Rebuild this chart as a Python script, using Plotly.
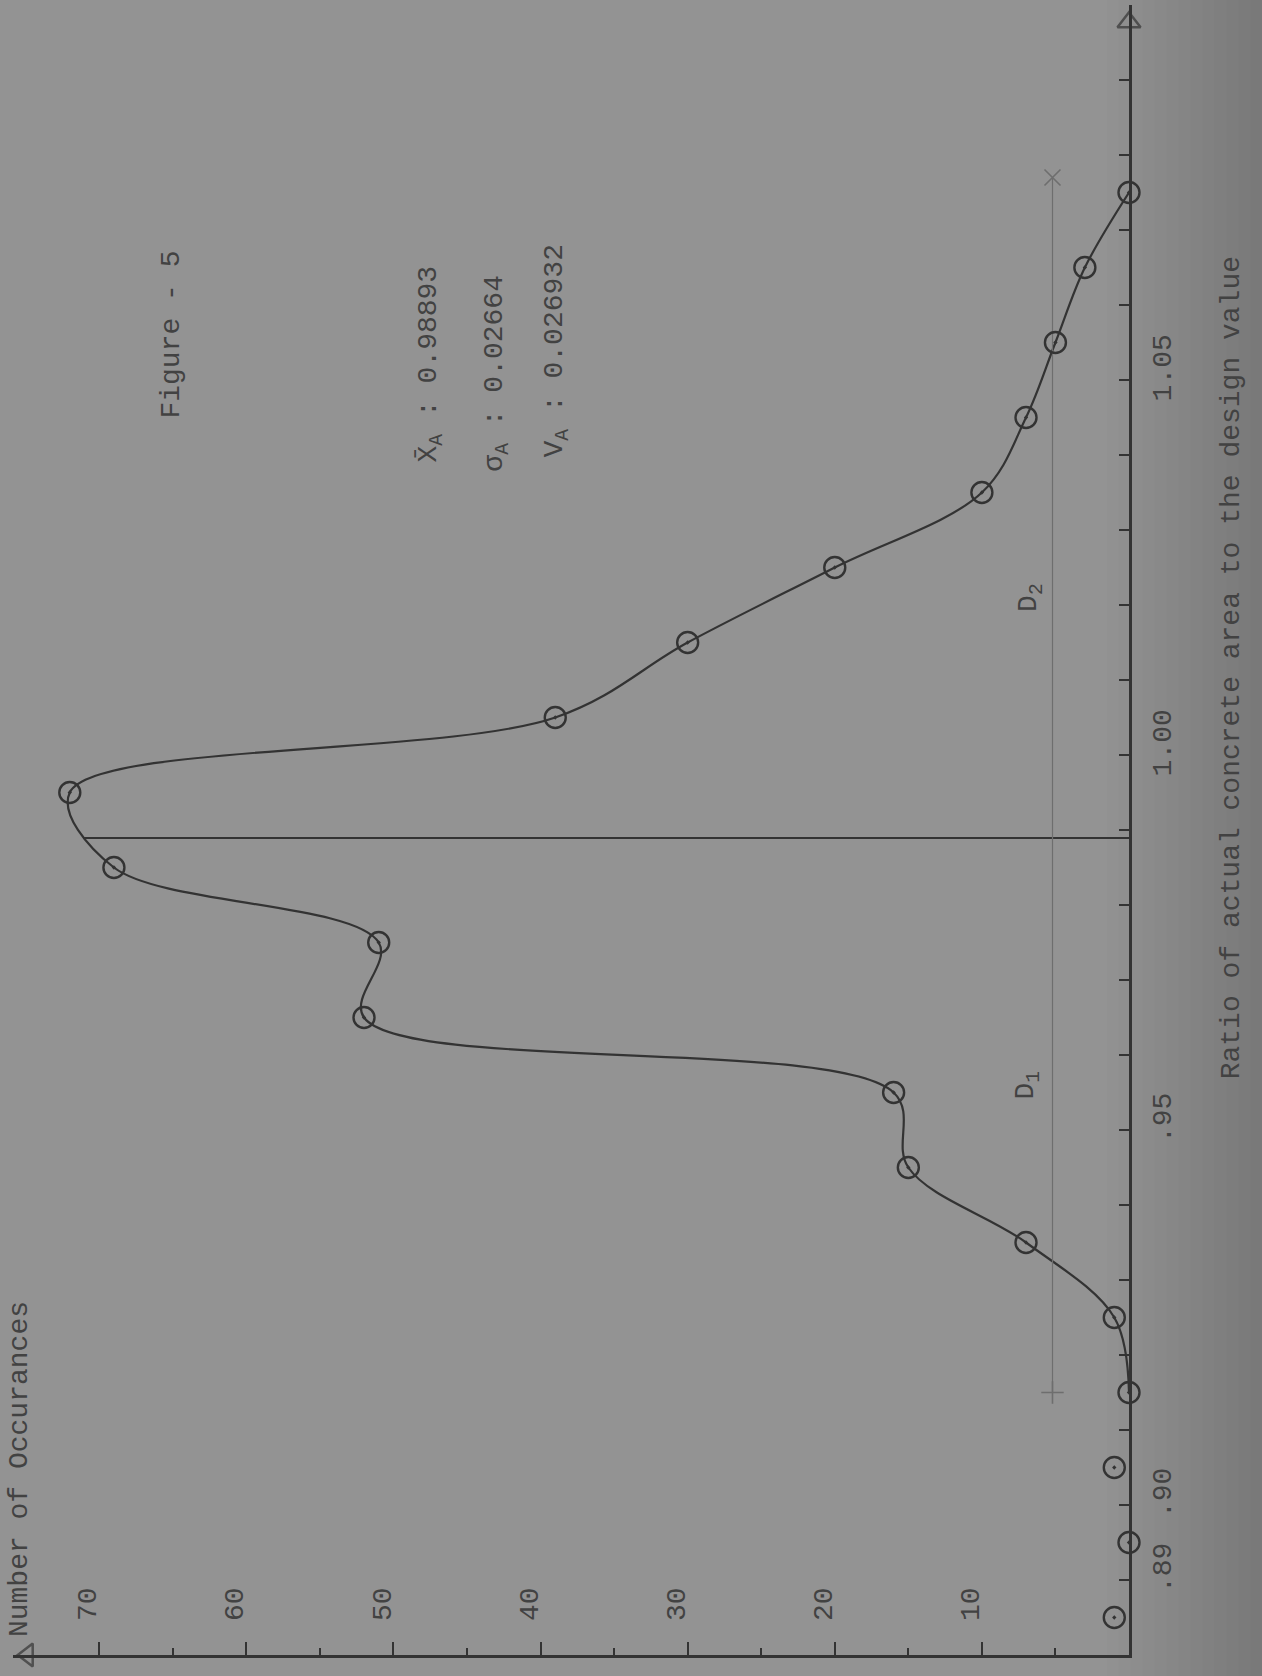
import plotly.graph_objects as go

# ---------------- data ----------------
ratio_bins = [0.885, 0.895, 0.905, 0.915, 0.925, 0.935, 0.945, 0.955, 0.965, 0.975,
              0.985, 0.995, 1.005, 1.015, 1.025, 1.035, 1.045, 1.055, 1.065, 1.075]
occurrences = [1, 0, 1, 0, 1, 7, 15, 16, 52, 51,
               69, 72, 39, 30, 20, 10, 7, 5, 3, 0]
curve_start = 3          # the smooth curve starts at the 0.915 point

mean_ratio = 0.98893
sigma_ratio = 0.02664
cov_ratio = 0.026932
mean_line_counts = [71.1, 0]

d_line_count = 5.2
d_line_ratios = [0.915, 1.077]

count_ticks = [10, 20, 30, 40, 50, 60, 70]
count_minor = [5, 15, 25, 35, 45, 55, 65]
ratio_ticks = [0.89, 0.90, 0.91, 0.92, 0.93, 0.94, 0.95, 0.96, 0.97, 0.98, 0.99,
               1.00, 1.01, 1.02, 1.03, 1.04, 1.05, 1.06, 1.07, 1.08, 1.09]
ratio_labels = {0.89: ".89", 0.90: ".90", 0.95: ".95", 1.00: "1.00", 1.05: "1.05"}

count_range = [75.86, 0]
ratio_range = [0.88, 1.10]

# ---------------- style ----------------
ink = "#333333"
text_ink = "#424242"
faint = "#6e6e6e"
paper = "#939393"
font = "Liberation Mono"

fig = go.Figure()

# smooth curve
fig.add_trace(go.Scatter(
    x=occurrences[curve_start:], y=ratio_bins[curve_start:],
    mode="lines", line=dict(color=ink, width=2.2, shape="spline", smoothing=1.0),
    hoverinfo="skip", showlegend=False))

# mean line
fig.add_trace(go.Scatter(
    x=mean_line_counts, y=[mean_ratio, mean_ratio],
    mode="lines", line=dict(color=ink, width=2), showlegend=False, hoverinfo="skip"))

# faint D line with end marks
fig.add_trace(go.Scatter(
    x=[d_line_count, d_line_count], y=d_line_ratios,
    mode="lines+markers", line=dict(color=faint, width=1.2),
    marker=dict(symbol=["cross-thin", "x-thin"], size=16,
                line=dict(color=faint, width=1.6)),
    showlegend=False, hoverinfo="skip"))

# data points
fig.add_trace(go.Scatter(
    x=occurrences, y=ratio_bins, mode="markers",
    marker=dict(symbol="circle-open-dot", size=21, color=ink,
                line=dict(color=ink, width=2.4)),
    showlegend=False, cliponaxis=False))

# axis arrow heads
fig.add_trace(go.Scatter(
    x=[count_range[1], count_range[0] - 1.0],
    y=[ratio_range[1] - 0.0023, ratio_range[0]],
    mode="markers",
    marker=dict(symbol=["triangle-up-open", "triangle-left-open"], size=[20, 20],
                color=ink, line=dict(color=ink, width=2.5)),
    cliponaxis=False, showlegend=False, hoverinfo="skip"))

ann = []
def A(text, x, y, xref="x", yref="y", size=28):
    ann.append(dict(text=text, x=x, y=y, xref=xref, yref=yref, showarrow=False,
                    textangle=-90, xanchor="center", yanchor="middle",
                    font=dict(family=font, size=size, color=text_ink)))

A("Figure - 5", 65.1, 1.0561)
A("X\u0304<sub>A</sub> : 0.98893", 47.5, 1.0521)
A("\u03c3<sub>A</sub> : 0.02664", 43.0, 1.0509)
A("V<sub>A</sub> : 0.026932", 38.9, 1.0539)
A("D<sub>1</sub>", 6.9, 0.956)
A("D<sub>2</sub>", 6.7, 1.021)
A("Number of Occurances", 0.0054, 0.1127, xref="paper", yref="paper")
A("Ratio of actual concrete area to the design value", 1.0914, 0.598,
  xref="paper", yref="paper")

# gentle darkening of the scan toward the right edge
shapes = []
n_strips = 14
for i in range(n_strips):
    x0 = 0.98 + i * (1.13 - 0.98) / n_strips
    shapes.append(dict(type="rect", xref="paper", yref="paper", x0=x0, x1=1.2,
                       y0=-0.05, y1=1.05, fillcolor="black", opacity=0.012,
                       line=dict(width=0), layer="below"))

fig.update_layout(
    width=1262, height=1676,
    margin=dict(l=13, r=133, t=5, b=21),
    paper_bgcolor=paper, plot_bgcolor=paper,
    annotations=ann, shapes=shapes,
    xaxis=dict(range=count_range, showline=True, linecolor=ink, linewidth=2.5,
               showgrid=False, zeroline=False,
               ticks="inside", ticklen=13, tickwidth=2, tickcolor=ink,
               tickmode="array", tickvals=count_ticks,
               ticktext=[str(v) for v in count_ticks],
               tickangle=-90, ticklabelposition="inside",
               ticklabelstandoff=14, ticklabelshift=12,
               tickfont=dict(family=font, size=28, color=text_ink),
               minor=dict(tickmode="array", tickvals=count_minor, ticks="inside",
                          ticklen=7, tickwidth=2, tickcolor=ink)),
    yaxis=dict(range=ratio_range, side="right", showline=True, linecolor=ink,
               linewidth=2.5, showgrid=False, zeroline=False,
               ticks="inside", ticklen=10, tickwidth=2, tickcolor=ink,
               tickmode="array", tickvals=ratio_ticks,
               ticktext=[ratio_labels.get(round(v, 2), "") for v in ratio_ticks],
               tickangle=-90, ticklabelstandoff=6, ticklabelshift=-8,
               tickfont=dict(family=font, size=28, color=text_ink)),
)

fig.write_html("out.html",
               config={"displayModeBar": False},
               post_script="document.body.style.margin='0px';"
                           "document.body.style.background='%s';" % paper)
